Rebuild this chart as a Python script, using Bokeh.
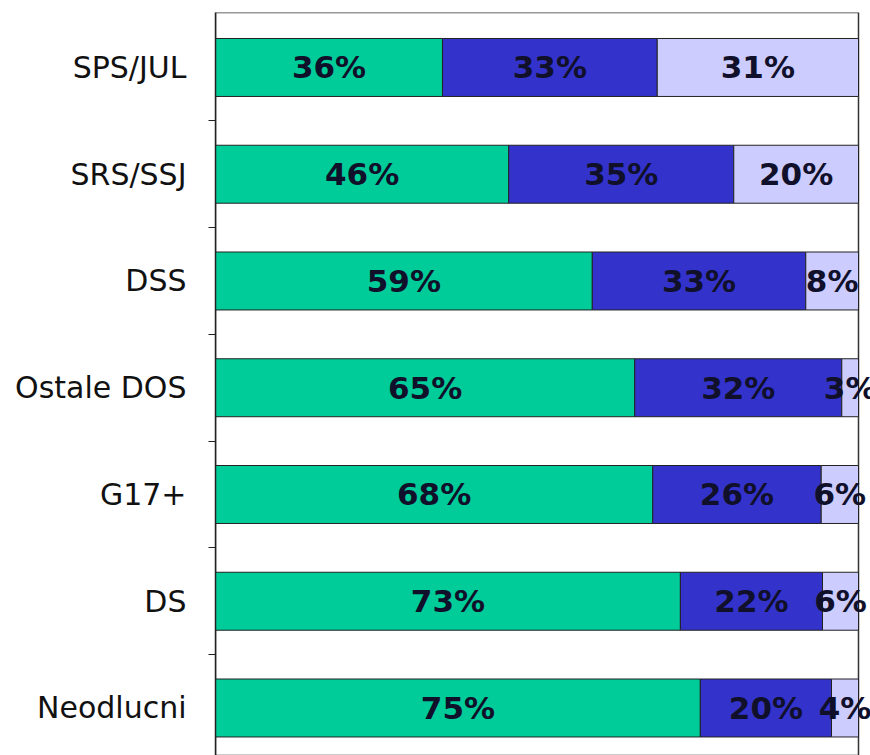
from bokeh.plotting import figure
from bokeh.models import ColumnDataSource, Range1d, FixedTicker, BoxAnnotation
from bokeh.core.properties import value
from bokeh.embed import file_html
from bokeh.resources import INLINE

# ---- data (top to bottom) ----
categories = ["SPS/JUL", "SRS/SSJ", "DSS", "Ostale DOS", "G17+", "DS", "Neodlucni"]
series1 = [35.3, 45.6, 58.6, 65.2, 68.0, 72.3, 75.4]   # green
series2 = [33.4, 35.0, 33.2, 32.2, 26.2, 22.1, 20.4]   # dark blue
series3 = [31.3, 19.4, 8.2, 2.6, 5.8, 5.6, 4.2]        # light lavender
labels1 = ["36%", "46%", "59%", "65%", "68%", "73%", "75%"]
labels2 = ["33%", "35%", "33%", "32%", "26%", "22%", "20%"]
labels3 = ["31%", "20%", "8%", "3%", "6%", "6%", "4%"]

colors = ["#00CC99", "#3333CC", "#CCCCFF"]

ypos = list(range(len(categories)))
s1_end = series1
s2_end = [a + b for a, b in zip(series1, series2)]
s3_end = [a + b for a, b in zip(s2_end, series3)]

src = ColumnDataSource(dict(
    y=ypos, l1=[0] * len(ypos), r1=s1_end, r2=s2_end, r3=s3_end,
    c1=[(0 + r) / 2 for r in s1_end],
    c2=[(a + b) / 2 for a, b in zip(s1_end, s2_end)],
    c3=[(a + b) / 2 for a, b in zip(s2_end, s3_end)],
    t1=labels1, t2=labels2, t3=labels3,
))

# frame spans x 215..870; the 100% edge sits at 858
x_end = 100 * (870 - 215) / (858 - 215)
p = figure(width=870, height=755, output_backend="svg", toolbar_location=None,
           x_range=Range1d(0, x_end), y_range=Range1d(6.445, -0.515),
           min_border_left=215, min_border_right=0, min_border_top=12,
           min_border_bottom=0)

bh = 0.543
p.hbar(y="y", left="l1", right="r1", height=bh, source=src,
       fill_color=colors[0], line_color="#222222", line_width=1)
p.hbar(y="y", left="r1", right="r2", height=bh, source=src,
       fill_color=colors[1], line_color="#222222", line_width=1)
p.hbar(y="y", left="r2", right="r3", height=bh, source=src,
       fill_color=colors[2], line_color="#222222", line_width=1)

# plot-area border (top + right at 100%)
p.add_layout(BoxAnnotation(left=0, right=100, fill_alpha=0, fill_color=None,
                           line_color="#333333", line_alpha=1.0, line_width=1.5,
                           level="underlay"))

for cx, tx in (("c1", "t1"), ("c2", "t2"), ("c3", "t3")):
    p.text(x=cx, y="y", text=tx, source=src,
           text_align="center", text_baseline="middle",
           text_font=value("DejaVu Sans"), text_font_style="bold",
           text_font_size="31px", text_color="#10102a")

p.xaxis.visible = False
p.xgrid.visible = False
p.ygrid.visible = False

boundaries = [i + 0.5 for i in ypos[:-1]]
p.yaxis.ticker = FixedTicker(ticks=ypos, minor_ticks=boundaries)
p.yaxis.major_label_overrides = {i: c for i, c in zip(ypos, categories)}
p.yaxis.major_tick_line_color = None
p.yaxis.major_tick_out = 0
p.yaxis.major_tick_in = 0
p.yaxis.minor_tick_out = 7
p.yaxis.minor_tick_in = 0
p.yaxis.minor_tick_line_color = "#222222"
p.yaxis.axis_line_color = "#222222"
p.yaxis.axis_line_width = 1.5
p.yaxis.major_label_standoff = 22
p.yaxis.major_label_text_font = "DejaVu Sans"
p.yaxis.major_label_text_font_size = "30px"
p.yaxis.major_label_text_color = "#111111"

p.outline_line_color = None
p.background_fill_color = "white"
p.border_fill_color = "white"

open("out.html", "w").write(file_html(p, INLINE))
